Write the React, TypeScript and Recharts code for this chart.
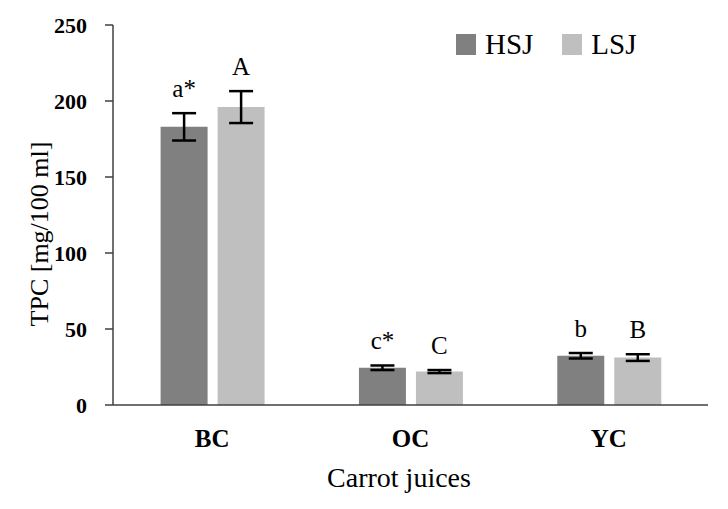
import * as React from 'react'
import { Bar, BarChart, ErrorBar, LabelList, XAxis, YAxis } from 'recharts'

const categories = ['BC', 'OC', 'YC']
const hsjValues = [183, 24.5, 32.4]
const hsjErrors = [9, 1.5, 1.8]
const hsjLetters = ['a*', 'c*', 'b']
const lsjValues = [196, 22, 31.2]
const lsjErrors = [10.5, 1, 2.2]
const lsjLetters = ['A', 'C', 'B']
const yTicks = [0, 50, 100, 150, 200, 250]

const HSJ_COLOR = '#808080'
const LSJ_COLOR = '#bfbfbf'
const AXIS_COLOR = '#404040'
const FONT = '"Liberation Serif", "DejaVu Serif", serif'

const data = categories.map((name, i) => ({
  name,
  hsj: hsjValues[i],
  hsjErr: hsjErrors[i],
  lsj: lsjValues[i],
  lsjErr: lsjErrors[i],
}))

function letterLabel(letters: string[], values: number[], errors: number[]) {
  return (props: any) => {
    const { x, y, width, height, index } = props
    const pxPerUnit = Number(height) / values[index]
    const top = Number(y) - errors[index] * pxPerUnit
    return (
      <text
        x={Number(x) + Number(width) / 2}
        y={top - 16}
        textAnchor="middle"
        fontFamily={FONT}
        fontSize={25}
        fill="#000"
      >
        {letters[index]}
      </text>
    )
  }
}

function LegendItem({ color, label }: { color: string; label: string }) {
  return (
    <div style={{ display: 'flex', alignItems: 'center', marginRight: 29 }}>
      <div style={{ width: 20, height: 21, background: color, marginRight: 9 }} />
      <span style={{ fontFamily: FONT, fontSize: 29, lineHeight: '32px', color: '#000' }}>{label}</span>
    </div>
  )
}

export default function App() {
  return (
    <div style={{ position: 'absolute', left: 0, top: 0, width: 728, height: 509, background: '#fff' }}>
      <BarChart
        width={728}
        height={509}
        data={data}
        margin={{ top: 25, right: 20, bottom: 44, left: 0 }}
        barCategoryGap="24%"
        barGap={10}
      >
        <XAxis
          dataKey="name"
          height={60}
          axisLine={{ stroke: AXIS_COLOR, strokeWidth: 1.5 }}
          tickLine={false}
          tickSize={0}
          tickMargin={24}
          tick={{ fontFamily: FONT, fontSize: 25, fontWeight: 'bold', fill: '#000' }}
          label={{
            content: () => (
              <text x={399} y={487} textAnchor="middle" fontFamily={FONT} fontSize={28} fill="#000">
                Carrot juices
              </text>
            ),
          }}
        />
        <YAxis
          width={113}
          domain={[0, 250]}
          ticks={yTicks}
          interval={0}
          axisLine={{ stroke: AXIS_COLOR, strokeWidth: 1.5 }}
          tickLine={{ stroke: AXIS_COLOR, strokeWidth: 1.5 }}
          tickSize={8}
          tickMargin={18}
          tick={{ fontFamily: FONT, fontSize: 22, fontWeight: 'bold', fill: '#000' }}
          label={{
            content: () => (
              <text
                x={39}
                y={234}
                transform="rotate(-90 39 234)"
                textAnchor="middle"
                dominantBaseline="central"
                fontFamily={FONT}
                fontSize={26}
                fill="#000"
              >
                TPC [mg/100 ml]
              </text>
            ),
          }}
        />
        <Bar dataKey="hsj" fill={HSJ_COLOR} isAnimationActive={false}>
          <ErrorBar dataKey="hsjErr" width={12} stroke="#000" strokeWidth={2.5} />
          <LabelList dataKey="hsj" content={letterLabel(hsjLetters, hsjValues, hsjErrors)} />
        </Bar>
        <Bar dataKey="lsj" fill={LSJ_COLOR} isAnimationActive={false}>
          <ErrorBar dataKey="lsjErr" width={12} stroke="#000" strokeWidth={2.5} />
          <LabelList dataKey="lsj" content={letterLabel(lsjLetters, lsjValues, lsjErrors)} />
        </Bar>
      </BarChart>
      <div style={{ position: 'absolute', left: 456, top: 28, display: 'flex' }}>
        <LegendItem color={HSJ_COLOR} label="HSJ" />
        <LegendItem color={LSJ_COLOR} label="LSJ" />
      </div>
    </div>
  )
}
